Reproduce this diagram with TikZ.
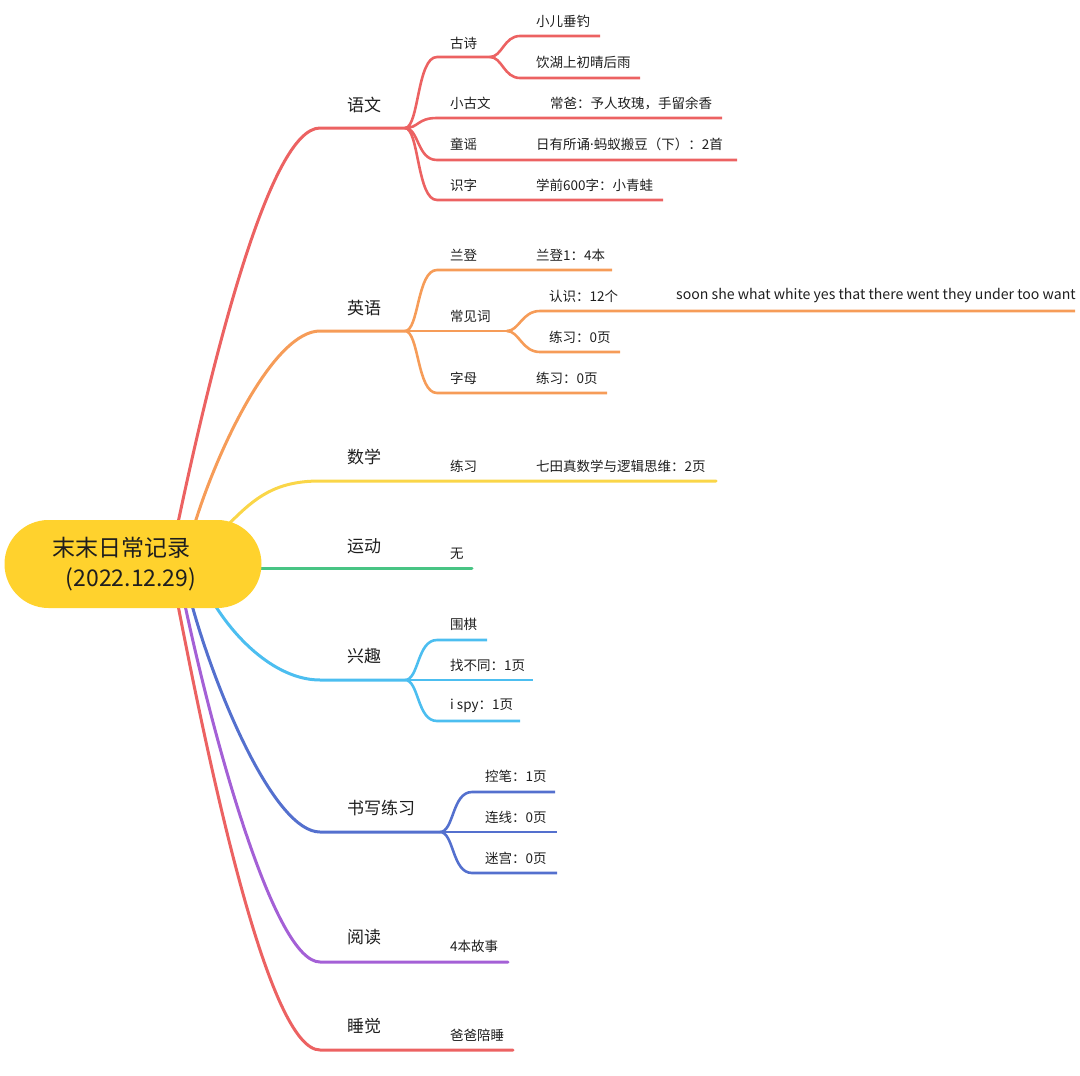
\documentclass[tikz,border=0pt]{standalone}
\usepackage{fontspec}
\setmainfont{Noto Sans CJK SC}
\newfontfamily\latinfont{Noto Sans}
\usepackage{tikz}
\usetikzlibrary{backgrounds}
\definecolor{rootyellow}{RGB}{255,210,45}
\definecolor{bred}{RGB}{236,98,98}
\definecolor{borange}{RGB}{246,156,88}
\definecolor{byellow}{RGB}{250,214,72}
\definecolor{bgreen}{RGB}{72,196,132}
\definecolor{bsky}{RGB}{76,190,240}
\definecolor{bblue}{RGB}{84,112,206}
\definecolor{bpurple}{RGB}{164,96,214}
\definecolor{inkgray}{RGB}{30,30,30}

\begin{document}
\begin{tikzpicture}[x=1pt,y=-1pt,
    root/.style={fill=rootyellow,rounded corners=44pt,minimum width=257pt,
                 minimum height=88pt,inner sep=0pt,align=left,
                 font=\fontsize{23}{30}\selectfont,text=inkgray},
    subj/.style={anchor=west,inner sep=0pt,font=\fontsize{17}{20}\selectfont,text=inkgray},
    item/.style={anchor=west,inner sep=0pt,font=\fontsize{13.5}{16}\selectfont,text=inkgray},
    br/.style={line width=3pt,line cap=round},
    tw/.style={line width=2.6pt}]
  \useasboundingbox (0,0) rectangle (1080,1076);

  % root
  \node[root] (root) at (133,564) {末末日常记录\\\hspace*{13pt}(2022.12.29)\hspace*{17pt}};

  % topics
  \node[subj] (chinese) at (347,105) {语文};
  \node[subj] (english) at (347,308) {英语};
  \node[subj] (math)    at (347,457) {数学};
  \node[subj] (sport)   at (347,546) {运动};
  \node[subj] (hobby)   at (347,656) {兴趣};
  \node[subj] (writing) at (347,808) {书写练习};
  \node[subj] (reading) at (347,937) {阅读};
  \node[subj] (sleep)   at (347,1026) {睡觉};

  % 语文
  \node[item] (gushi)  at (450,43)  {古诗};
  \node[item] (poem1)  at (536,21)  {小儿垂钓};
  \node[item] (poem2)  at (536,62)  {饮湖上初晴后雨};
  \node[item] (xgw)    at (450,103) {小古文};
  \node[item] (xgw1)   at (550,103) {常爸：予人玫瑰，手留余香};
  \node[item] (tongyao) at (450,144) {童谣};
  \node[item] (ty1)    at (536,144) {日有所诵{\latinfont ·}蚂蚁搬豆（下）：2首};
  \node[item] (shizi)  at (450,185) {识字};
  \node[item] (sz1)    at (536,185) {学前600字：小青蛙};
  % 英语
  \node[item] (landeng) at (450,255) {兰登};
  \node[item] (ld1)    at (536,255) {兰登1：4本};
  \node[item] (words)  at (450,316) {常见词};
  \node[item] (know)   at (549,296) {认识：12个};
  \node[item,font=\fontsize{14.1}{16}\selectfont] (know1) at (676,296) {soon she what white yes that there went they under too want};
  \node[item] (wpr)    at (549,337) {练习：0页};
  \node[item] (letters) at (450,378) {字母};
  \node[item] (lpr)    at (536,378) {练习：0页};
  % 数学
  \node[item] (mpr)    at (450,466) {练习};
  \node[item] (mpr1)   at (536,466) {七田真数学与逻辑思维：2页};
  % 运动
  \node[item] (none)   at (450,554) {无};
  % 兴趣
  \node[item] (weiqi)  at (450,624) {围棋};
  \node[item] (diff)   at (450,665) {找不同：1页};
  \node[item] (ispy)   at (450,706) {i spy：1页};
  % 书写练习
  \node[item] (kongbi) at (485,776) {控笔：1页};
  \node[item] (lianxian) at (485,817) {连线：0页};
  \node[item] (migong) at (485,858) {迷宫：0页};
  % 阅读, 睡觉
  \node[item] (stories) at (450,946) {4本故事};
  \node[item] (papa)   at (450,1035) {爸爸陪睡};

  % branch points
  \foreach \n/\x/\y in {cn-s/320/128, cn-f/405/128, gs-s/437/57, gs-f/490/57,
      p1-s/520/36, p1-e/600/36, p2-s/520/78, p2-e/640/78, xgw-s/437/118,
      xgw-e/722/118, ty-s/437/160, ty-e/737/160, sz-s/437/200, sz-e/663/200,
      en-s/320/331, en-f/405/331, ld-s/437/270, ld-e/612/270, wd-f/507/331,
      kn-s/540/311, kn-e/1075/311, wp-s/540/352, wp-e/620/352,
      lt-s/437/393, lt-e/607/393, ma-s/320/481, ma-e/716/481, sp-e/472/568,
      hb-s/320/680, hb-f/405/680, wq-s/437/640, wq-e/487/640, df-e/533/680,
      is-s/437/721, is-e/520/721, wr-s/320/832, wr-f/440/832, kb-s/472/792,
      kb-e/555/792, lx-e/557/832, mg-s/472/873, mg-e/557/873,
      rd-s/320/962, rd-e/508/962, sl-s/320/1050, sl-e/513/1050}
    \coordinate (\n) at (\x,\y);

  \begin{scope}[on background layer]
    % root to topics
    \draw[br,bred] ([xshift=45pt,yshift=-3pt]root.north) .. controls +(35,-165) and +(-50,0) .. (cn-s) -- (cn-f);
    \draw[br,borange] ([xshift=62pt,yshift=-3pt]root.north) .. controls +(25,-80) and +(-45,0) .. (en-s) -- (en-f);
    \draw[br,byellow] ([xshift=97pt,yshift=-3pt]root.north) .. controls +(25,-25) and +(-45,0) .. (ma-s) -- (ma-e);
    \draw[br,bgreen] ([xshift=-4pt,yshift=-4pt]root.east) -- (sp-e);
    \draw[br,bsky] ([xshift=82pt,yshift=3pt]root.south) .. controls +(25,40) and +(-40,0) .. (hb-s) -- (hb-f);
    \draw[br,bblue] ([xshift=59pt,yshift=3pt]root.south) .. controls +(25,90) and +(-45,0) .. (wr-s) -- (wr-f);
    \draw[br,bpurple] ([xshift=52pt,yshift=3pt]root.south) .. controls +(30,140) and +(-45,0) .. (rd-s) -- (rd-e);
    \draw[br,bred] ([xshift=45pt,yshift=3pt]root.south) .. controls +(35,180) and +(-50,0) .. (sl-s) -- (sl-e);

    % 语文
    \draw[tw,bred] (cn-f) .. controls +(14,0) and +(-20,0) .. (gs-s) -- (gs-f);
    \draw[tw,bred] (gs-f) .. controls +(12,0) and +(-16,0) .. (p1-s) -- (p1-e);
    \draw[tw,bred] (gs-f) .. controls +(12,0) and +(-16,0) .. (p2-s) -- (p2-e);
    \draw[tw,bred] (cn-f) .. controls +(14,0) and +(-20,0) .. (xgw-s) -- (xgw-e);
    \draw[tw,bred] (cn-f) .. controls +(14,0) and +(-20,0) .. (ty-s) -- (ty-e);
    \draw[tw,bred] (cn-f) .. controls +(14,0) and +(-20,0) .. (sz-s) -- (sz-e);
    % 英语
    \draw[tw,borange] (en-f) .. controls +(14,0) and +(-20,0) .. (ld-s) -- (ld-e);
    \draw[tw,borange] (en-f) -- (wd-f);
    \draw[tw,borange] (wd-f) .. controls +(12,0) and +(-18,0) .. (kn-s) -- (kn-e);
    \draw[tw,borange] (wd-f) .. controls +(12,0) and +(-18,0) .. (wp-s) -- (wp-e);
    \draw[tw,borange] (en-f) .. controls +(14,0) and +(-20,0) .. (lt-s) -- (lt-e);
    % 兴趣
    \draw[tw,bsky] (hb-f) .. controls +(14,0) and +(-20,0) .. (wq-s) -- (wq-e);
    \draw[tw,bsky] (hb-f) -- (df-e);
    \draw[tw,bsky] (hb-f) .. controls +(14,0) and +(-20,0) .. (is-s) -- (is-e);
    % 书写练习
    \draw[tw,bblue] (wr-f) .. controls +(14,0) and +(-20,0) .. (kb-s) -- (kb-e);
    \draw[tw,bblue] (wr-f) -- (lx-e);
    \draw[tw,bblue] (wr-f) .. controls +(14,0) and +(-20,0) .. (mg-s) -- (mg-e);
  \end{scope}
\end{tikzpicture}
\end{document}
